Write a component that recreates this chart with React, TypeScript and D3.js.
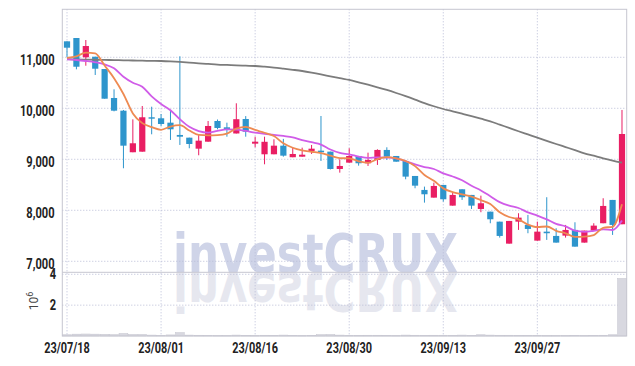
import React from "react";
import * as d3 from "d3";

const dates = [
  "23/07/18","23/07/19","23/07/20","23/07/21","23/07/24","23/07/25","23/07/26","23/07/27","23/07/28","23/07/31",
  "23/08/01","23/08/02","23/08/03","23/08/04","23/08/07","23/08/08","23/08/09","23/08/10","23/08/11","23/08/14",
  "23/08/16","23/08/17","23/08/18","23/08/21","23/08/22","23/08/23","23/08/24","23/08/25","23/08/28","23/08/29",
  "23/08/30","23/08/31","23/09/01","23/09/04","23/09/05","23/09/06","23/09/07","23/09/08","23/09/11","23/09/12",
  "23/09/13","23/09/14","23/09/15","23/09/18","23/09/19","23/09/20","23/09/21","23/09/22","23/09/25","23/09/26",
  "23/09/27","23/10/04","23/10/05","23/10/06","23/10/10","23/10/11","23/10/12","23/10/13","23/10/16","23/10/17",
];

const opens = [
  11313, 11378, 11000, 11011, 10770, 10202, 9953, 9138, 9149, 9824,
  9804, 9718, 9477, 9424, 9208, 9345, 9751, 9627, 9506, 9790,
  9306, 9098, 9098, 9267, 9040, 9051, 9163, 9169, 9150, 8810,
  8934, 9065, 8922, 8987, 9183, 9065, 8967, 8673, 8399, 8248,
  8497, 8091, 8412, 8301, 8026, 7973, 7777, 7346, 7777, 7713,
  7405, 7581, 7497, 7503, 7615, 7366, 7601, 7746, 8203, 7726,
];
const highs = [
  11313, 11378, 11339, 11011, 10770, 10372, 9967, 9784, 10045, 10031,
  9888, 9967, 11020, 9424, 9477, 9751, 9780, 9718, 10098, 9847,
  9443, 9443, 9392, 9400, 9228, 9228, 9281, 9849, 9150, 9000,
  9216, 9065, 9130, 9196, 9235, 9065, 8967, 8673, 8464, 8542,
  8497, 8346, 8412, 8301, 8287, 7973, 7777, 7791, 7942, 7909,
  7777, 8256, 7648, 7713, 7765, 7601, 7746, 8236, 8203, 9967,
];
const lows = [
  11005, 10764, 10835, 10653, 10188, 9940, 8824, 9138, 9149, 9490,
  9653, 9379, 9281, 9216, 9079, 9345, 9588, 9443, 9506, 9443,
  9235, 8902, 9098, 9051, 9040, 9051, 9104, 8967, 8800, 8738,
  8934, 8875, 8869, 8889, 8987, 8953, 8608, 8432, 8150, 8248,
  8170, 8091, 8203, 8026, 7962, 7746, 7464, 7346, 7615, 7550,
  7405, 7419, 7366, 7464, 7287, 7366, 7601, 7746, 7517, 7726,
];
const closes = [
  11188, 10815, 11221, 10776, 10188, 9953, 9267, 9314, 9824, 9796,
  9692, 9588, 9443, 9300, 9365, 9653, 9614, 9588, 9786, 9540,
  9345, 9343, 9267, 9071, 9104, 9090, 9208, 9138, 8810, 8869,
  9065, 8922, 8987, 9183, 9051, 8953, 8660, 8483, 8314, 8477,
  8216, 8301, 8256, 8091, 8138, 7824, 7497, 7791, 7856, 7634,
  7581, 7550, 7366, 7615, 7287, 7601, 7699, 8085, 7713, 9496,
];
const volumes = [
  80000, 120000, 130000, 120000, 110000, 90000, 160000, 100000, 100000, 60000,
  40000, 70000, 220000, 60000, 50000, 40000, 30000, 30000, 60000, 40000,
  30000, 50000, 40000, 60000, 40000, 30000, 40000, 90000, 100000, 60000,
  40000, 40000, 50000, 50000, 40000, 30000, 60000, 50000, 40000, 50000,
  50000, 40000, 60000, 40000, 80000, 60000, 50000, 50000, 40000, 40000,
  40000, 30000, 30000, 30000, 40000, 30000, 40000, 50000, 80000, 3730000,
];

// moving average values before enough visible history exists
const ma5Lead = [10990, 11020, 11090, 11075];
const ma10Lead = [10960, 10947, 10927, 10902, 10862, 10784, 10620, 10502, 10423];
const ma60 = [
  10965, 10958, 10955, 10952, 10948, 10945, 10940, 10937, 10933, 10930,
  10927, 10920, 10910, 10897, 10882, 10870, 10858, 10850, 10842, 10835,
  10829, 10815, 10798, 10777, 10755, 10731, 10700, 10665, 10627, 10590,
  10555, 10510, 10462, 10412, 10359, 10300, 10237, 10170, 10100, 10040,
  9986, 9940, 9893, 9845, 9795, 9745, 9680, 9615, 9550, 9487,
  9424, 9362, 9300, 9240, 9180, 9118, 9070, 9020, 8975, 8934,
];

const priceTicks = [7000, 8000, 9000, 10000, 11000];
const volumeTicks = [2, 4];
const dateTickIdx = [0, 10, 20, 30, 40, 50];

const W = 635;
const H = 366;
const LEFT = 62.3;
const RIGHT = 626.7;
const TOP = 9.3;
const PRICE_BOTTOM = 272.3;
const VOL_BOTTOM = 336;

const UP = "#e91e63";
const DOWN = "#2e95cc";
const GRID = "#b8bcd6";
const BORDER = "#c6c6d0";

function movingAvg(n: number, lead: number[]) {
  return closes.map((c, i) =>
    i < n - 1 ? lead[i] : (d3.mean(closes.slice(i - n + 1, i + 1)) as number)
  );
}

export default function App() {
  const x = d3.scaleBand<string>().domain(dates).range([LEFT, RIGHT]).padding(0);
  const bw = x.bandwidth();
  const cx = (i: number) => (x(dates[i]) as number) + bw / 2;
  const yP = d3.scaleLinear().domain([6784, 11941]).range([PRICE_BOTTOM, TOP]);
  const yV = d3.scaleLinear().domain([0, 4.13e6]).range([VOL_BOTTOM, PRICE_BOTTOM]);

  const ma5 = movingAvg(5, ma5Lead);
  const ma10 = movingAvg(10, ma10Lead);

  const line = d3
    .line<number>()
    .x((_, i) => cx(i))
    .y((d) => yP(d))
    .curve(d3.curveMonotoneX);

  const bodyW = bw * 0.66;
  const labelFont = "Roboto, 'DejaVu Sans', sans-serif";
  const wmY = PRICE_BOTTOM - 0.5;

  return (
    <svg
      width={W}
      height={H}
      style={{ position: "absolute", left: 0, top: 0, background: "#fff" }}
    >
      <rect x={0} y={0} width={W} height={H} fill="#fff" />

      {/* watermark */}
      <g fontFamily="'DejaVu Sans', sans-serif" fontWeight="bold" fontSize={53}>
        <text
          x={173}
          y={wmY}
          textLength={285}
          lengthAdjust="spacingAndGlyphs"
          fill="#cfd4e8"
        >
          investCRUX
        </text>
        <text
          transform={`translate(0,${2 * wmY + 1}) scale(1,-1)`}
          x={173}
          y={wmY}
          textLength={285}
          lengthAdjust="spacingAndGlyphs"
          fill="#e6e7ef"
        >
          investCRUX
        </text>
      </g>

      {/* grid */}
      <g stroke={GRID} strokeWidth={1} strokeDasharray="1,2">
        {priceTicks.map((t) => (
          <line key={"p" + t} x1={LEFT} x2={RIGHT} y1={yP(t)} y2={yP(t)} />
        ))}
        {volumeTicks.map((t) => (
          <line key={"v" + t} x1={LEFT} x2={RIGHT} y1={yV(t * 1e6)} y2={yV(t * 1e6)} />
        ))}
        {dateTickIdx.map((i) => (
          <line key={"d" + i} x1={cx(i)} x2={cx(i)} y1={TOP} y2={VOL_BOTTOM} />
        ))}
      </g>

      {/* volume bars */}
      <g>
        {volumes.map((v, i) => (
          <rect
            key={"vb" + i}
            x={(x(dates[i]) as number) + 0.3}
            width={bw - 0.6}
            y={yV(v)}
            height={Math.max(0.5, VOL_BOTTOM - yV(v))}
            fill="#d8d8e0"
            stroke="#c4c4ce"
            strokeWidth={0.5}
          />
        ))}
      </g>

      {/* borders */}
      <g stroke={BORDER} strokeWidth={1} fill="none">
        <rect x={LEFT} y={TOP} width={RIGHT - LEFT} height={VOL_BOTTOM - TOP} />
        <line x1={LEFT} x2={RIGHT} y1={PRICE_BOTTOM} y2={PRICE_BOTTOM} />
      </g>

      {/* candles */}
      <g>
        {closes.map((c, i) => {
          const o = opens[i];
          const col = c > o ? UP : DOWN;
          const yTop = yP(Math.max(o, c));
          const yBot = yP(Math.min(o, c));
          return (
            <g key={"c" + i}>
              <line
                x1={cx(i)}
                x2={cx(i)}
                y1={yP(highs[i])}
                y2={yP(lows[i])}
                stroke={col}
                strokeWidth={1}
              />
              <rect
                x={cx(i) - bodyW / 2}
                width={bodyW}
                y={yTop}
                height={Math.max(1.2, yBot - yTop)}
                fill={col}
              />
            </g>
          );
        })}
      </g>

      {/* moving averages */}
      <path d={line(ma60) || ""} fill="none" stroke="#7c7c7c" strokeWidth={1.8} />
      <path d={line(ma10) || ""} fill="none" stroke="#d05ce8" strokeWidth={1.8} />
      <path d={line(ma5) || ""} fill="none" stroke="#ee8a52" strokeWidth={1.8} />

      {/* price axis labels */}
      <g fontFamily={labelFont} fontWeight={700} fontSize={15} fill="#222">
        {priceTicks.map((t) => (
          <text
            key={"pl" + t}
            transform={`translate(54.5,${yP(t) + 7.3}) scale(0.74,1)`}
            textAnchor="end"
          >
            {d3.format(",")(t)}
          </text>
        ))}
        {volumeTicks.map((t) => (
          <text
            key={"vl" + t}
            transform={`translate(56,${yV(t * 1e6) + 5}) scale(0.74,1)`}
            textAnchor="end"
          >
            {t}
          </text>
        ))}
      </g>

      {/* volume unit */}
      <text
        transform="translate(38,301) rotate(-90)"
        textAnchor="middle"
        fontFamily={labelFont}
        fontSize={12}
        fill="#444"
      >
        10
        <tspan dy={-5} fontSize={9}>
          6
        </tspan>
      </text>

      {/* date labels */}
      <g fontFamily={labelFont} fontWeight={700} fontSize={14} fill="#222">
        {dateTickIdx.map((i) => (
          <text
            key={"dl" + i}
            transform={`translate(${cx(i)},353.3) scale(0.78,1)`}
            textAnchor="middle"
          >
            {dates[i]}
          </text>
        ))}
      </g>
    </svg>
  );
}
